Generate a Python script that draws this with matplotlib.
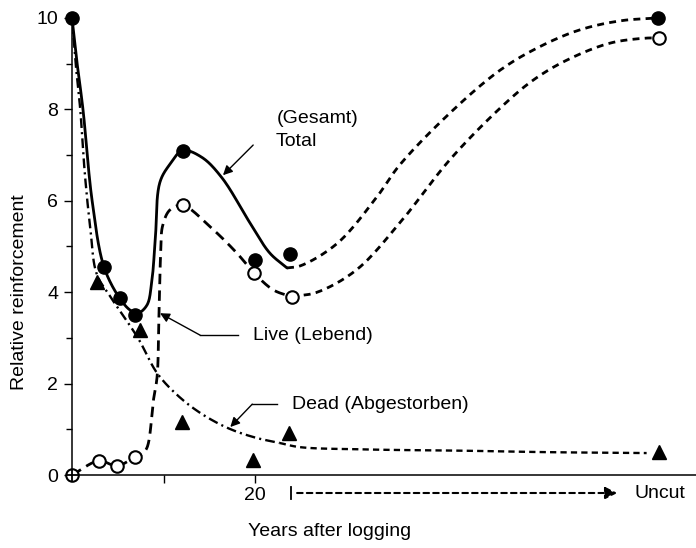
import numpy as np
import matplotlib
matplotlib.use("Agg")
import matplotlib.pyplot as plt

# ---------------- data ----------------
# measured points
total_pts_x = [0, 3.5, 5.2, 6.9, 12.1, 20.0, 23.8, 64.0]
total_pts_y = [10.0, 4.55, 3.87, 3.5, 7.1, 4.7, 4.84, 10.0]
live_pts_x = [2.95, 4.9, 6.9, 12.1, 19.9, 24.0, 64.2]
live_pts_y = [0.31, 0.2, 0.39, 5.9, 4.42, 3.9, 9.56]
origin_x = [0]
origin_y = [0]
dead_pts_x = [2.7, 7.4, 12.0, 19.8, 23.7, 64.2]
dead_pts_y = [4.22, 3.17, 1.16, 0.33, 0.92, 0.5]

# hand-drawn fitted curves (knots)
total_curve_x = [0, 0.5, 1.2, 2.2, 3.5, 5.2, 6.4, 7.2, 8.2, 8.7, 9.1, 9.6, 10.7, 12.1, 14.2, 16.4, 19.5, 21.6, 23.5]
total_curve_y = [10, 9.1, 8.0, 6.0, 4.55, 3.87, 3.6, 3.54, 3.72, 4.2, 5.14, 6.4, 6.8, 7.1, 6.95, 6.5, 5.5, 4.86, 4.53]
total_ext_x = [23.5, 25.0, 29.0, 33.3, 35.8, 41.3, 46.8, 51.1, 55.5, 60.0, 64.0]
total_ext_y = [4.53, 4.58, 5.07, 6.08, 6.78, 7.92, 8.86, 9.37, 9.74, 9.94, 10.0]

live_curve_x = [0, 2.95, 4.9, 6.9, 7.6, 8.2, 8.9, 9.3, 9.5, 9.7, 9.9, 10.7, 12.1, 15.1, 18.0, 19.9, 22.0, 24.0]
live_curve_y = [0, 0.31, 0.2, 0.39, 0.45, 0.6, 1.64, 2.15, 3.46, 4.9, 5.45, 5.8, 5.9, 5.43, 4.86, 4.42, 4.05, 3.9]
live_ext_x = [24.0, 26.8, 31.1, 35.8, 41.3, 46.8, 50.4, 54.1, 58.8, 62.8, 64.0]
live_ext_y = [3.9, 4.0, 4.49, 5.51, 6.9, 8.03, 8.64, 9.08, 9.45, 9.56, 9.56]

dead_curve_x = [0, 0.4, 0.9, 1.4, 2.0, 2.7, 4.2, 7.2, 9.3, 11.5, 14.0, 17.0, 20.0, 22.7]
dead_curve_y = [10, 9.0, 8.0, 6.6, 5.4, 4.4, 3.9, 3.0, 2.23, 1.75, 1.36, 1.03, 0.82, 0.7]
dead_ext_x = [22.7, 24.9, 32.0, 43.2, 52.0, 62.8]
dead_ext_y = [0.7, 0.61, 0.56, 0.53, 0.5, 0.48]

y_ticks = [0, 2, 4, 6, 8, 10]
y_minor = [1, 3, 5, 7, 9]
x_ticks = [10, 20]
x_ticklabels = ["", "20"]

PX_X, PX_Y = 9.15, 45.7  # px per unit, used only to smooth in screen space


def smooth(xs, ys, n=24):
    """centripetal Catmull-Rom through the knots (rendering only)"""
    P = np.column_stack([np.asarray(xs) * PX_X, np.asarray(ys) * PX_Y]).astype(float)
    P = np.vstack([2 * P[0] - P[1], P, 2 * P[-1] - P[-2]])
    out = []
    for i in range(1, len(P) - 2):
        p0, p1, p2, p3 = P[i - 1], P[i], P[i + 1], P[i + 2]
        def tj(ti, a, b):
            return ti + max(np.linalg.norm(b - a), 1e-6) ** 0.5
        t0 = 0.0
        t1 = tj(t0, p0, p1)
        t2 = tj(t1, p1, p2)
        t3 = tj(t2, p2, p3)
        t = np.linspace(t1, t2, n)[:, None]
        A1 = (t1 - t) / (t1 - t0) * p0 + (t - t0) / (t1 - t0) * p1
        A2 = (t2 - t) / (t2 - t1) * p1 + (t - t1) / (t2 - t1) * p2
        A3 = (t3 - t) / (t3 - t2) * p2 + (t - t2) / (t3 - t2) * p3
        B1 = (t2 - t) / (t2 - t0) * A1 + (t - t0) / (t2 - t0) * A2
        B2 = (t3 - t) / (t3 - t1) * A2 + (t - t1) / (t3 - t1) * A3
        C = (t2 - t) / (t2 - t1) * B1 + (t - t1) / (t2 - t1) * B2
        out.append(C if i == 1 else C[1:])
    C = np.vstack(out)
    return C[:, 0] / PX_X, C[:, 1] / PX_Y


plt.rcParams['font.family'] = ['Liberation Sans', 'DejaVu Sans']
plt.rcParams['lines.scale_dashes'] = False

W, H = 696, 548
fig = plt.figure(figsize=(W / 100, H / 100), dpi=100)
ax = fig.add_axes([72 / W, 1 - 475 / H, (696 - 72) / W, (475 - 15.7) / H])
ax.set_xlim(0, (696 - 72) / PX_X)
ax.set_ylim(0, 10.05)

for s in ['top', 'right']:
    ax.spines[s].set_visible(False)
for s in ['left', 'bottom']:
    ax.spines[s].set_linewidth(1.1)

ax.set_yticks(y_ticks)
ax.set_yticks(y_minor, minor=True)
ax.set_xticks(x_ticks)
ax.set_xticklabels(x_ticklabels)
ax.tick_params(axis='y', which='major', length=6, width=1, pad=4, labelsize=14)
ax.tick_params(axis='y', which='minor', length=4, width=1)
ax.tick_params(axis='x', which='major', length=6, width=1, pad=3, labelsize=14)

K = 'black'
# Total
x, y = smooth(total_curve_x, total_curve_y)
ax.plot(x, y, color=K, lw=2.0, solid_capstyle='round')
x, y = smooth(total_ext_x, total_ext_y)
ax.plot(x, y, color=K, lw=2.0, dashes=(5, 3.8))
# Live
x, y = smooth(live_curve_x, live_curve_y)
ax.plot(x, y, color=K, lw=2.0, dashes=(7.5, 4.5))
x, y = smooth(live_ext_x, live_ext_y)
ax.plot(x, y, color=K, lw=2.0, dashes=(5, 3.8))
# Dead
x, y = smooth(dead_curve_x, dead_curve_y)
ax.plot(x, y, color=K, lw=1.7, dashes=(7, 3, 1.5, 3))
x, y = smooth(dead_ext_x, dead_ext_y)
ax.plot(x, y, color=K, lw=1.7, dashes=(4.5, 3))

# markers
ax.plot(total_pts_x, total_pts_y, 'o', ms=9.5, color=K, clip_on=False, zorder=5)
ax.plot(live_pts_x, live_pts_y, 'o', ms=9, mfc='white', mec=K, mew=1.5, clip_on=False, zorder=5)
ax.plot(origin_x, origin_y, 'o', ms=9, mfc='white', mec=K, mew=1.5, clip_on=False, zorder=6)
ax.plot(origin_x, origin_y, '+', ms=9, mec=K, mew=1.3, clip_on=False, zorder=7)
ax.plot(dead_pts_x, dead_pts_y, '^', ms=10, color=K, clip_on=False, zorder=5)

# annotations
fs = 14
ax.text(22.4, 7.81, "(Gesamt)", fontsize=fs, va='center', ha='left')
ax.text(22.2, 7.29, "Total", fontsize=fs, va='center', ha='left')
ax.annotate("", xy=(16.5, 6.56), xytext=(19.8, 7.22),
            arrowprops=dict(arrowstyle='-|>', color=K, lw=1.0, mutation_scale=14,
                            shrinkA=0, shrinkB=0))

ax.plot([18.1, 14.0], [3.06, 3.06], color=K, lw=1.0)
ax.annotate("", xy=(9.62, 3.54), xytext=(14.0, 3.06),
            arrowprops=dict(arrowstyle='-|>', color=K, lw=1.0, mutation_scale=14,
                            shrinkA=0, shrinkB=0))
ax.text(19.8, 3.06, "Live (Lebend)", fontsize=fs, va='center', ha='left')

ax.plot([22.4, 19.7], [1.55, 1.55], color=K, lw=1.0)
ax.annotate("", xy=(17.3, 1.05), xytext=(19.7, 1.55),
            arrowprops=dict(arrowstyle='-|>', color=K, lw=1.0, mutation_scale=14,
                            shrinkA=0, shrinkB=0))
ax.text(24.0, 1.55, "Dead (Abgestorben)", fontsize=fs, va='center', ha='left')

# below-axis "Uncut" arrow
trans = ax.get_xaxis_transform()
yb = (475 - 493) / (475 - 15.7)
ax.plot([23.9, 23.9], [yb - 0.012, yb + 0.012], color=K, lw=1.3, transform=trans, clip_on=False)
ax.annotate("", xy=(59.6, yb), xytext=(24.6, yb), xycoords=trans, textcoords=trans,
            arrowprops=dict(arrowstyle='-|>', color=K, lw=1.5, ls=(0, (4, 3)),
                            mutation_scale=18, shrinkA=0, shrinkB=0), annotation_clip=False)
ax.text(61.5, yb, "Uncut", fontsize=fs, va='center', ha='left', transform=trans, clip_on=False)

fig.text(248 / W, 1 - 532 / H, "Years after logging", fontsize=fs, va='center', ha='left')
fig.text(20 / W, 1 - 292 / H, "Relative reinforcement", fontsize=fs, va='center', ha='center',
         rotation=90)

fig.savefig("out.png", dpi=100)
